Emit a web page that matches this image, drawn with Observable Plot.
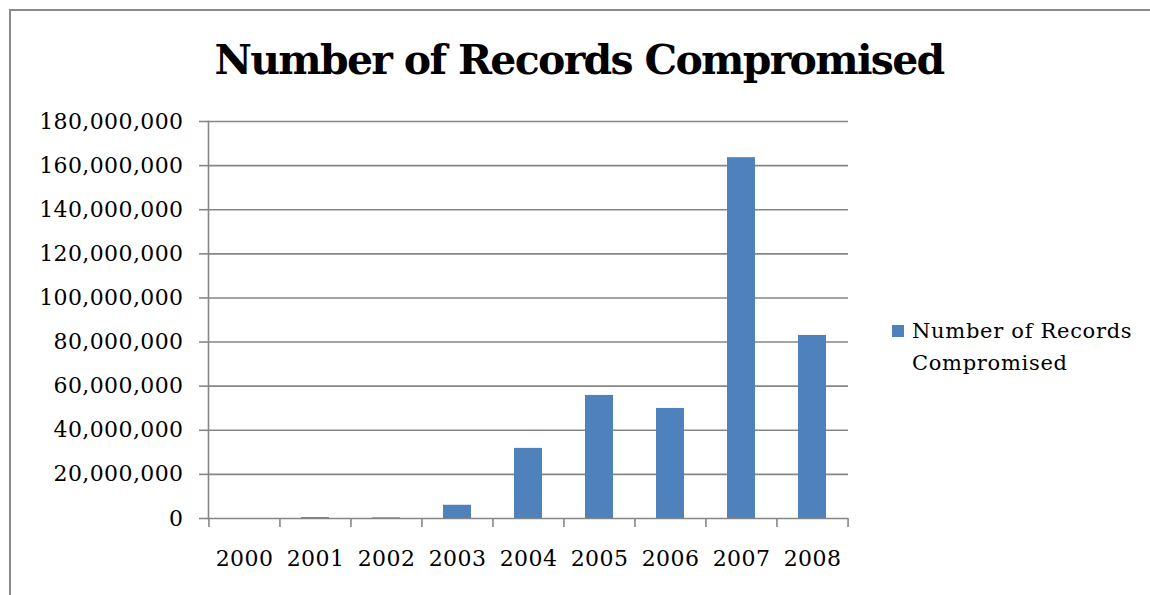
<!DOCTYPE html>
<html>
<head>
<meta charset="utf-8">
<script src="https://cdn.jsdelivr.net/npm/d3@7"></script>
<script src="https://cdn.jsdelivr.net/npm/@observablehq/plot@0.6"></script>
<style>
  html, body { margin: 0; padding: 0; background: #fff; }
  body { width: 1150px; height: 595px; overflow: hidden; position: relative; font-family: "DejaVu Serif", serif; color: #000; }
  #border { position: absolute; left: 9px; top: 9px; width: 1300px; height: 800px; border-left: 2px solid #898989; border-top: 2px solid #898989; }
  #title { position: absolute; left: 0; top: 40px; width: 1158px; text-align: center; font: bold 41px/1 "DejaVu Serif", serif; letter-spacing: -1.7px; white-space: nowrap; }
  #chart { position: absolute; left: 0; top: 100px; }
  #chart svg text { letter-spacing: 0.4px; }
  #legend-swatch { position: absolute; left: 892px; top: 325px; width: 12px; height: 12px; background: #4F81BD; }
  #legend-text { position: absolute; left: 912px; top: 315px; width: 235px; font: 21px/32px "DejaVu Serif", serif; letter-spacing: 0.7px; }
</style>
</head>
<body>
<div id="border"></div>
<div id="title"></div>
<div id="chart"></div>
<div id="legend-swatch"></div>
<div id="legend-text"></div>
<script>
const titleText = "Number of Records Compromised";
const seriesName = "Number of Records Compromised";
const years = ["2000", "2001", "2002", "2003", "2004", "2005", "2006", "2007", "2008"];
const records = [0, 400000, 300000, 6000000, 31800000, 55800000, 49900000, 163600000, 83000000];
const yTicks = [0, 20000000, 40000000, 60000000, 80000000, 100000000, 120000000, 140000000, 160000000, 180000000];

document.getElementById("title").textContent = titleText;
document.getElementById("legend-text").innerHTML = "Number of Records<br>Compromised";

const data = years.map((year, i) => ({year, value: records[i]}));

const W = 1150, mL = 208, mR = 302;
const step = (W - mL - mR) / years.length;
const gray = "#868686";

const chart = Plot.plot({
  width: W,
  height: 495,
  marginLeft: mL,
  marginRight: mR,
  marginTop: 21,
  marginBottom: 77,
  style: {background: "transparent", fontFamily: "'DejaVu Serif', serif", fontSize: "22px", color: "#000"},
  x: {domain: years, paddingInner: 0.6, paddingOuter: 0.3, label: null},
  y: {domain: [0, 180000000], label: null},
  marks: [
    Plot.gridY(yTicks, {stroke: gray, strokeOpacity: 1, strokeWidth: 1.6}),
    Plot.frame({anchor: "left", stroke: gray, strokeWidth: 1.6}),
    Plot.axisY(yTicks, {tickSize: 9, tickPadding: 16, tickFormat: d3.format(","), stroke: gray, strokeWidth: 1.6, label: null}),
    Plot.axisX(years, {tickSize: 9, tickFormat: () => "", dx: -step / 2, stroke: gray, strokeWidth: 1.6, label: null}),
    Plot.axisX([years[years.length - 1]], {tickSize: 9, tickFormat: () => "", dx: step / 2, stroke: gray, strokeWidth: 1.6, label: null}),
    Plot.axisX(years, {tickSize: 0, tickPadding: 32, label: null}),
    Plot.barY(data, {x: "year", y: "value", fill: "#4F81BD", title: d => `${d.year}: ${d3.format(",")(d.value)}`})
  ]
});
document.getElementById("chart").appendChild(chart);
</script>
</body>
</html>
